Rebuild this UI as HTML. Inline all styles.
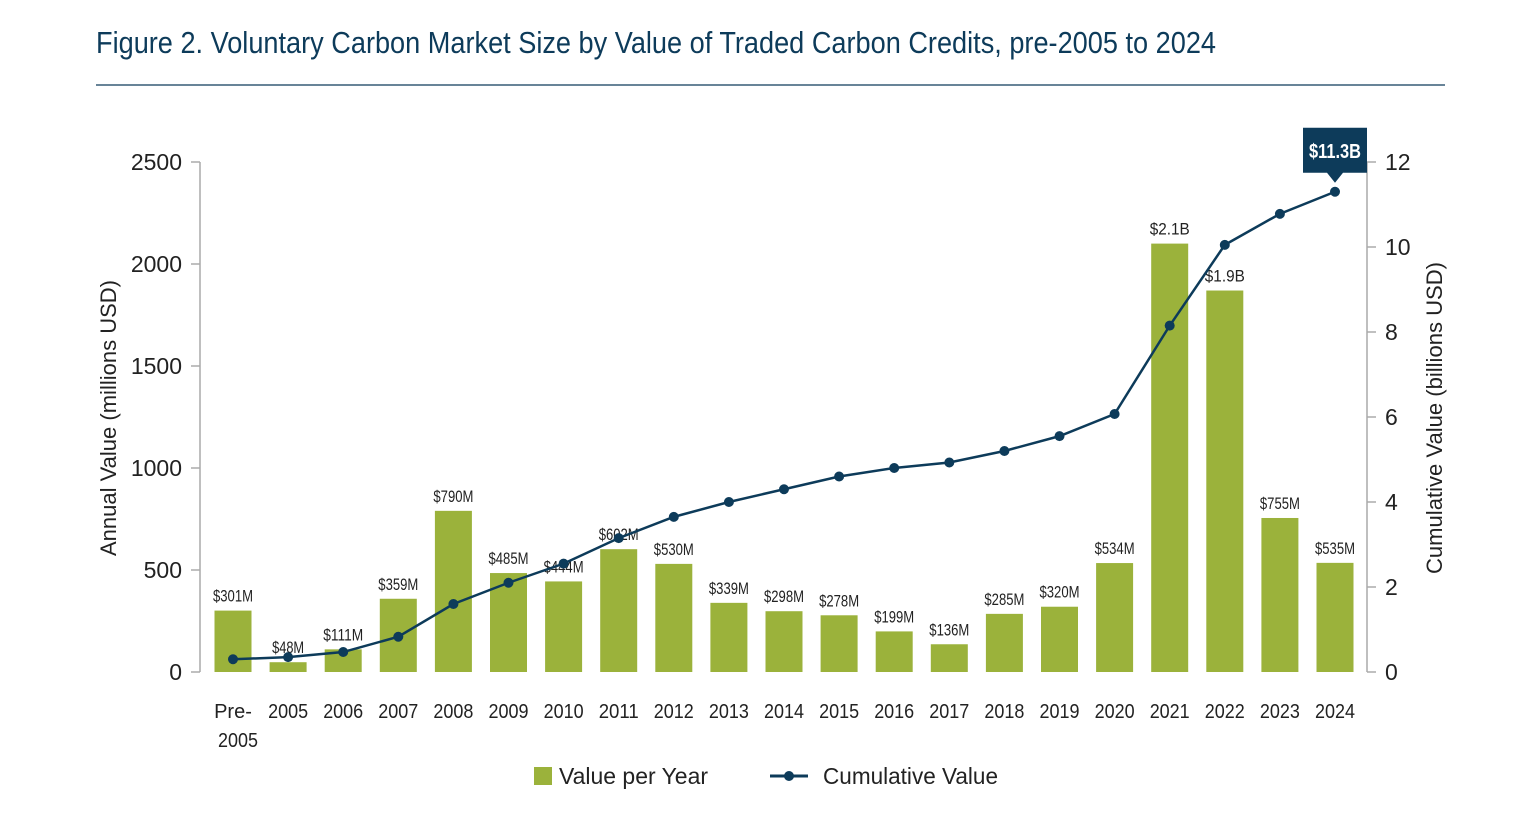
<!DOCTYPE html>
<html><head><meta charset="utf-8"><style>
body{margin:0;background:#fff;}
svg text{font-family:"Liberation Sans Narrow","Liberation Sans",sans-serif;}
</style></head><body>
<svg id="chart" width="1520" height="830" xmlns="http://www.w3.org/2000/svg">
<text x="96" y="53" font-size="31" fill="#0d3b5a" textLength="1120" lengthAdjust="spacingAndGlyphs">Figure 2. Voluntary Carbon Market Size by Value of Traded Carbon Credits, pre-2005 to 2024</text>
<line x1="96" y1="85" x2="1445" y2="85" stroke="#0d3b5a" stroke-width="1.2"/>
<g id="axes"></g><g id="bars"></g><g id="line"></g>
<text transform="translate(116,418) rotate(-90)" text-anchor="middle" font-size="22" fill="#222" textLength="276" lengthAdjust="spacingAndGlyphs">Annual Value (millions USD)</text>
<text transform="translate(1442,418) rotate(-90)" text-anchor="middle" font-size="22" fill="#222" textLength="312" lengthAdjust="spacingAndGlyphs">Cumulative Value (billions USD)</text>
<g>
<rect x="534" y="767" width="18" height="18" fill="#9bb23b"/>
<text x="559" y="784" font-size="23" fill="#222" textLength="149" lengthAdjust="spacingAndGlyphs">Value per Year</text>
<line x1="770" y1="776" x2="808" y2="776" stroke="#0d3b5a" stroke-width="3"/>
<circle cx="789" cy="776" r="5" fill="#0d3b5a"/>
<text x="823" y="784" font-size="23" fill="#222" textLength="175" lengthAdjust="spacingAndGlyphs">Cumulative Value</text>
</g>
</svg>
<script>
const categories=["Pre-2005","2005","2006","2007","2008","2009","2010","2011","2012","2013","2014","2015","2016","2017","2018","2019","2020","2021","2022","2023","2024"];
const annualValues=[301,48,111,359,790,485,444,602,530,339,298,278,199,136,285,320,534,2100,1870,755,535];
const barLabels=["$301M","$48M","$111M","$359M","$790M","$485M","$444M","$602M","$530M","$339M","$298M","$278M","$199M","$136M","$285M","$320M","$534M","$2.1B","$1.9B","$755M","$535M"];
const cumulativeValues=[0.3,0.35,0.47,0.83,1.6,2.1,2.55,3.15,3.65,4.0,4.3,4.6,4.8,4.93,5.2,5.55,6.07,8.15,10.05,10.78,11.3];
const leftTicks=[0,500,1000,1500,2000,2500];
const rightTicks=[0,2,4,6,8,10,12];
const NS="http://www.w3.org/2000/svg";
const y0=672,yTop=162;
const yL=v=>y0-(v/2500)*(y0-yTop);
const yR=v=>y0-(v/12)*(y0-yTop);
const xC=i=>233+i*55.1;
function mk(t,a,p){const e=document.createElementNS(NS,t);for(const k in a)e.setAttribute(k,a[k]);p.appendChild(e);return e;}
const ax=document.getElementById('axes'),bg=document.getElementById('bars'),lg=document.getElementById('line');
let e=mk('line',{x1:200,y1:yTop,x2:200,y2:y0,stroke:'#aaa','stroke-width':1.5},ax);


e=mk('line',{x1:1367,y1:yTop,x2:1367,y2:y0,stroke:'#aaa','stroke-width':1.5},ax);


leftTicks.forEach(v=>{
 e=mk('line',{x1:191,y1:yL(v),x2:200,y2:yL(v),stroke:'#aaa','stroke-width':1.5},ax);
 
 
 e=mk('text',{x:182,y:yL(v)+8,'text-anchor':'end','font-size':23,fill:'#222'},ax);e.textContent=v;
 
 
});
rightTicks.forEach(v=>{
 e=mk('line',{x1:1367,y1:yR(v),x2:1376,y2:yR(v),stroke:'#aaa','stroke-width':1.5},ax);
 
 
 e=mk('text',{x:1385,y:yR(v)+8,'font-size':23,fill:'#222'},ax);e.textContent=v;
 
 
});
categories.forEach((c,i)=>{
 const x=xC(i);
 e=mk('text',{x:x,y:718,'text-anchor':'middle','font-size':20,fill:'#222'},ax);
 
 
 if(c==="Pre-2005"){e.textContent="Pre-";const t=mk('text',{x:x+5,y:747,'text-anchor':'middle','font-size':20,fill:'#222',textLength:40,lengthAdjust:'spacingAndGlyphs'},ax);t.textContent="2005";
  
  }
 else {e.textContent=c;e.setAttribute('textLength',40);e.setAttribute('lengthAdjust','spacingAndGlyphs');}
 const v=annualValues[i];
 e=mk('rect',{x:x-18.5,y:yL(v),width:37,height:y0-yL(v),fill:'#9bb23b'},bg);
 
 
 const lbl=barLabels[i];
 e=mk('text',{x:x,y:yL(v)-9,'text-anchor':'middle','font-size':17,fill:'#222',textLength:lbl.length*8,lengthAdjust:'spacingAndGlyphs'},bg);e.textContent=lbl;
 
 
});
const pts=cumulativeValues.map((v,i)=>xC(i)+','+yR(v)).join(' ');
e=mk('polyline',{points:pts,fill:'none',stroke:'#0d3b5a','stroke-width':2.5},lg);


cumulativeValues.forEach((v,i)=>{
 e=mk('circle',{cx:xC(i),cy:yR(v),r:5,fill:'#0d3b5a'},lg);
 
 
});
const li=cumulativeValues.length-1,lx=xC(li),ly=yR(cumulativeValues[li]);
e=mk('path',{d:`M${lx-32},${ly-64} h64 v45 h-24 l-8,10 l-8,-10 h-24 z`,fill:'#0d3b5a'},lg);


e=mk('text',{x:lx,y:ly-34,'text-anchor':'middle','font-size':20,'font-weight':'bold',fill:'#fff',textLength:52,lengthAdjust:'spacingAndGlyphs'},lg);e.textContent='$11.3B';


</script>
</body></html>
